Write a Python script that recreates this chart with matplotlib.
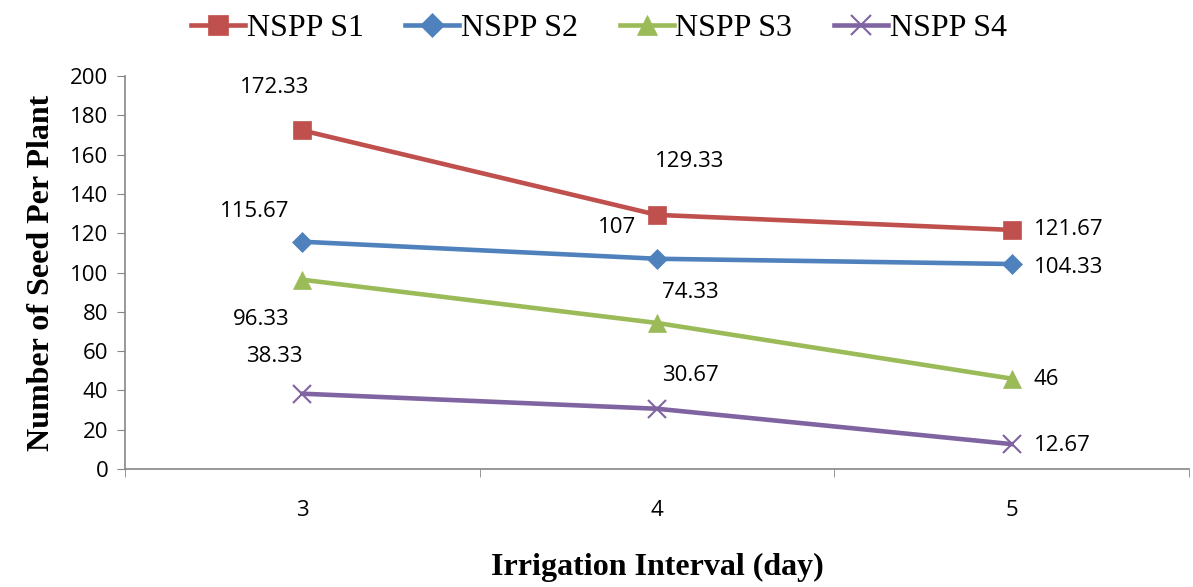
import numpy as np
import matplotlib
matplotlib.use('Agg')
import matplotlib.pyplot as plt

# data
intervals = [3, 4, 5]
s1 = [172.33, 129.33, 121.67]
s2 = [115.67, 107, 104.33]
s3 = [96.33, 74.33, 46]
s4 = [38.33, 30.67, 12.67]
labels = ['NSPP S1', 'NSPP S2', 'NSPP S3', 'NSPP S4']
label_texts = [['172.33', '129.33', '121.67'],
               ['115.67', '107', '104.33'],
               ['96.33', '74.33', '46'],
               ['38.33', '30.67', '12.67']]

colors = ['#C0504D', '#4F81BD', '#9BBB59', '#8064A2']
markers = ['s', 'D', '^', 'x']
msizes = [12.5, 10, 12.5, 12.5]

# label offsets in pixels (dx, dy), alignment
offsets = [[(-28, 43, 'center'), (33, 53, 'center'), (22, 0, 'left')],
           [(-48, 30, 'center'), (-40, 31, 'center'), (22, -3, 'left')],
           [(-41, -40, 'center'), (33, 30, 'center'), (22, -1, 'left')],
           [(-28, 37, 'center'), (33, 33, 'center'), (22, -1, 'left')]]

plt.rcParams['font.family'] = ['Open Sans', 'DejaVu Sans']

fig = plt.figure(figsize=(11.93, 5.87), dpi=100)
ax = fig.add_axes([0.1048, 0.201, 0.8918, 0.6695])

series = [s1, s2, s3, s4]
for i, ys in enumerate(series):
    ax.plot(intervals, ys, color=colors[i], lw=3.3, marker=markers[i],
            markersize=msizes[i], markeredgewidth=1.5 if markers[i] == 'x' else 0.5,
            markeredgecolor=colors[i], label=labels[i])
    for j, (x, y) in enumerate(zip(intervals, ys)):
        dx, dy, ha = offsets[i][j]
        ax.annotate(label_texts[i][j], (x, y), xytext=(dx, dy),
                    textcoords='offset pixels', ha=ha, va='center', fontsize=16)

ax.set_xlim(2.5, 5.5)
ax.set_ylim(0, 200)
ax.set_yticks(np.arange(0, 201, 20))
ax.set_xticks(intervals)
ax.set_xticks([2.5, 3.5, 4.5, 5.5], minor=True)
ax.tick_params(axis='x', which='major', length=0, pad=22, labelsize=16)
ax.tick_params(axis='x', which='minor', length=6, color='#868686', direction='out')
ax.tick_params(axis='y', length=6, color='#868686', labelsize=16, pad=6)

for side in ['top', 'right']:
    ax.spines[side].set_visible(False)
for side in ['left', 'bottom']:
    ax.spines[side].set_color('#868686')
    ax.spines[side].set_linewidth(1.2)

ax.set_ylabel('Number of Seed Per Plant', family='Liberation Serif',
              fontweight='bold', fontsize=23, labelpad=10)
ax.set_xlabel('Irrigation Interval (day)', family='Liberation Serif',
              fontweight='bold', fontsize=23, va='center')
ax.xaxis.set_label_coords(0.5, -0.25)

leg = fig.legend(loc='upper center', bbox_to_anchor=(0.502, 1.025), ncol=4,
                 frameon=False, prop={'family': 'Liberation Serif', 'size': 23},
                 handlelength=1.7, handletextpad=0.05, columnspacing=1.3,
                 markerscale=1.2)

fig.savefig('out.png', dpi=100)
